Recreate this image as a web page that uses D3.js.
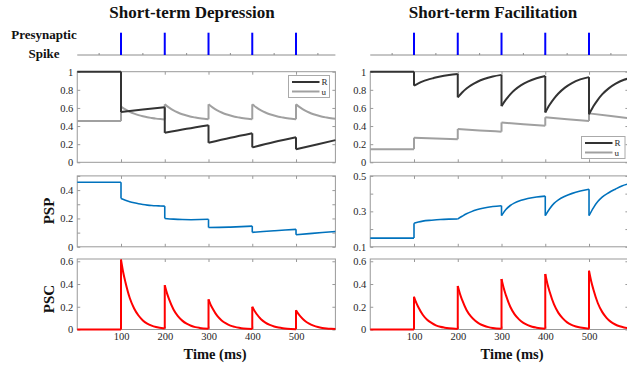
<!DOCTYPE html>
<html>
<head>
<meta charset="utf-8">
<script src="https://cdn.jsdelivr.net/npm/d3@7"></script>
<style>
  body { margin: 0; background: #fff; }
  svg { display: block; font-family: "Liberation Serif", "Times New Roman", serif; }
</style>
</head>
<body>
<div id="chart"></div>
<script>
// ---- data ----
const spikeTimes = [100, 200, 300, 400, 500];
const spikeAxisTicks = [50, 100, 150, 200, 250, 300, 350, 400, 450, 500, 550];
const timeTicks = [100, 200, 300, 400, 500];

const ruTicks = [0, 0.2, 0.4, 0.6, 0.8, 1];
const pspTicksDep = [0, 0.1, 0.2, 0.3, 0.4, 0.5];
const pspLabelsDep = [0, 0.2, 0.4];
const pspTicksFac = [0.1, 0.2, 0.3, 0.4, 0.5];
const pspLabelsFac = [0.1, 0.3, 0.5];
const pscTicks = [0, 0.2, 0.4, 0.6];

// depression: [time ms, value]
const depR = [[0,1],[100,1],[100,0.555],[150,0.582],[200,0.607],
  [200,0.325],[250,0.37],[300,0.41],
  [300,0.215],[350,0.27],[400,0.32],
  [400,0.165],[450,0.224],[500,0.276],
  [500,0.143],[550,0.2],[590,0.245]];
const depU = [[0,0.455],[100,0.455],
  [100,0.615],[110,0.583],[120,0.557],[130,0.537],[140,0.521],[150,0.508],[160,0.497],[170,0.489],[180,0.482],[190,0.477],[200,0.473],
  [200,0.64],[210,0.603],[220,0.573],[230,0.55],[240,0.531],[250,0.516],[260,0.503],[270,0.494],[280,0.486],[290,0.48],[300,0.475],
  [300,0.64],[310,0.603],[320,0.573],[330,0.55],[340,0.531],[350,0.516],[360,0.503],[370,0.494],[380,0.486],[390,0.48],[400,0.475],
  [400,0.64],[410,0.603],[420,0.573],[430,0.55],[440,0.531],[450,0.516],[460,0.503],[470,0.494],[480,0.486],[490,0.48],[500,0.475],
  [500,0.64],[510,0.603],[520,0.573],[530,0.55],[540,0.531],[550,0.516],[560,0.503],[570,0.494],[580,0.486],[590,0.48]];
const depPSP = [[0,0.455],[100,0.455],
  [100,0.34],[110,0.328],[120,0.318],[130,0.31],[140,0.303],[150,0.298],[160,0.294],[170,0.291],[180,0.289],[190,0.288],[200,0.287],
  [200,0.2],[220,0.195],[240,0.192],[260,0.191],[280,0.192],[300,0.194],
  [300,0.136],[325,0.137],[350,0.139],[375,0.142],[400,0.146],
  [400,0.102],[425,0.108],[450,0.113],[475,0.118],[500,0.123],
  [500,0.085],[530,0.093],[560,0.101],[590,0.108]];
const depPSC = [[0,0],[100,0],
  [100,0.615],[105,0.504],[110,0.418],[120,0.277],[130,0.185],[140,0.123],[150,0.08],[160,0.052],[170,0.034],[180,0.022],[200,0.009],
  [200,0.39],[205,0.32],[210,0.265],[220,0.176],[230,0.117],[240,0.078],[250,0.051],[260,0.033],[270,0.021],[280,0.014],[300,0.006],
  [300,0.265],[305,0.217],[310,0.18],[320,0.119],[330,0.08],[340,0.053],[350,0.034],[360,0.023],[370,0.015],[380,0.009],[400,0.004],
  [400,0.2],[405,0.164],[410,0.136],[420,0.09],[430,0.06],[440,0.04],[450,0.026],[460,0.017],[470,0.011],[480,0.007],[500,0.003],
  [500,0.17],[505,0.139],[510,0.116],[520,0.077],[530,0.051],[540,0.034],[550,0.022],[560,0.014],[570,0.009],[580,0.006],[590,0.004]];

// facilitation
const facR = [[0,1],[100,1],
  [100,0.846],[110,0.871],[120,0.893],[130,0.91],[145,0.93],[160,0.948],[180,0.964],[200,0.975],
  [200,0.717],[210,0.77],[220,0.814],[230,0.849],[245,0.889],[260,0.919],[280,0.947],[300,0.965],
  [300,0.62],[310,0.691],[320,0.75],[330,0.797],[345,0.851],[360,0.891],[380,0.928],[400,0.953],
  [400,0.55],[410,0.635],[420,0.703],[430,0.759],[445,0.824],[460,0.871],[480,0.915],[500,0.94],
  [500,0.53],[510,0.618],[520,0.69],[530,0.749],[545,0.816],[560,0.865],[580,0.911],[590,0.925]];
const facU = [[0,0.145],[100,0.145],
  [100,0.272],[150,0.262],[200,0.255],
  [200,0.368],[250,0.352],[300,0.338],
  [300,0.44],[350,0.42],[400,0.404],
  [400,0.497],[450,0.475],[500,0.456],
  [500,0.54],[550,0.51],[590,0.488]];
const facPSP = [[0,0.149],[100,0.149],
  [100,0.233],[110,0.24],[120,0.245],[140,0.25],[160,0.254],[180,0.256],[200,0.257],
  [200,0.257],[210,0.272],[220,0.286],[230,0.297],[245,0.31],[260,0.319],[280,0.327],[300,0.332],
  [300,0.276],[310,0.31],[320,0.333],[330,0.348],[345,0.362],[360,0.372],[380,0.381],[400,0.386],
  [400,0.276],[410,0.315],[420,0.345],[430,0.365],[445,0.385],[460,0.4],[480,0.415],[500,0.425],
  [500,0.276],[510,0.32],[520,0.355],[530,0.38],[545,0.405],[560,0.425],[575,0.443],[590,0.455]];
const facPSC = [[0,0],[100,0],
  [100,0.288],[105,0.236],[110,0.196],[120,0.13],[130,0.086],[140,0.058],[150,0.037],[160,0.024],[170,0.016],[180,0.01],[200,0.004],
  [200,0.383],[205,0.314],[210,0.26],[220,0.172],[230,0.115],[240,0.077],[250,0.05],[260,0.033],[270,0.021],[280,0.013],[300,0.006],
  [300,0.444],[305,0.364],[310,0.302],[320,0.2],[330,0.133],[340,0.089],[350,0.058],[360,0.038],[370,0.024],[380,0.016],[400,0.007],
  [400,0.488],[405,0.4],[410,0.332],[420,0.22],[430,0.146],[440,0.098],[450,0.063],[460,0.041],[470,0.027],[480,0.017],[500,0.007],
  [500,0.517],[505,0.424],[510,0.352],[520,0.233],[530,0.155],[540,0.103],[550,0.067],[560,0.044],[570,0.028],[580,0.018],[590,0.012]];

// ---- layout ----
const W = 627, H = 367;
const axisGray = '#999999', textGray = '#262626';
const colR = '#333333', colU = '#a0a0a0', colPSP = '#0072bd', colPSC = '#ff0000', colSpike = '#0000ff';

const svg = d3.select('#chart').append('svg')
  .attr('width', W).attr('height', H);

const columns = [
  { title: 'Short-term Depression', titleX: 192, xRange: [77.25, 335.4], timeX: 215,
    R: depR, u: depU, psp: depPSP, psc: depPSC,
    pspDomain: [0, 0.5], pspTicks: pspTicksDep, pspLabels: pspLabelsDep, legend: 'top' },
  { title: 'Short-term Facilitation', titleX: 493, xRange: [370.25, 628.4], timeX: 512,
    R: facR, u: facU, psp: facPSP, psc: facPSC,
    pspDomain: [0.1, 0.5], pspTicks: pspTicksFac, pspLabels: pspLabelsFac, legend: 'bottom' }
];

// split a series into continuous runs at the vertical jumps (repeated time)
function splitRuns(pts) {
  const runs = [[pts[0]]];
  for (let i = 1; i < pts.length; i++) {
    if (pts[i][0] === pts[i - 1][0]) runs.push([pts[i]]);
    else runs[runs.length - 1].push(pts[i]);
  }
  return runs;
}

function drawSeries(g, pts, x, y, color, width) {
  const smooth = d3.line().x(d => x(d[0])).y(d => y(d[1])).curve(d3.curveMonotoneX);
  const runs = splitRuns(pts);
  const jumps = [];
  for (let i = 1; i < runs.length; i++) jumps.push([runs[i - 1][runs[i - 1].length - 1], runs[i][0]]);
  g.selectAll(null).data(jumps).enter().append('line')
    .attr('x1', d => x(d[0][0])).attr('y1', d => y(d[0][1]))
    .attr('x2', d => x(d[1][0])).attr('y2', d => y(d[1][1]))
    .attr('stroke', color).attr('stroke-width', width);
  g.selectAll(null).data(runs).enter().append('path')
    .attr('d', smooth)
    .attr('fill', 'none').attr('stroke', color).attr('stroke-width', width)
    .attr('stroke-linejoin', 'round');
}

function styleAxis(sel) {
  sel.select('.domain').remove();
  sel.selectAll('.tick line').attr('stroke', axisGray);
  sel.selectAll('.tick text')
    .attr('fill', textGray)
    .style('font-family', '"Liberation Serif", "Times New Roman", serif')
    .style('font-size', '10.5px');
}

function drawBox(g, x, y, yTicks, yLabels, xLabels) {
  const [x0, x1] = x.range();
  const [yb, yt] = y.range();
  const fmt = d3.format('~g');
  g.append('rect')
    .attr('x', x0).attr('y', yt).attr('width', x1 - x0).attr('height', yb - yt)
    .attr('fill', 'none').attr('stroke', axisGray).attr('stroke-width', 1);
  g.append('g').attr('transform', `translate(${x0},0)`)
    .call(d3.axisLeft(y).tickValues(yTicks).tickSizeInner(-3).tickSizeOuter(0).tickPadding(4)
      .tickFormat(d => yLabels.includes(d) ? fmt(d) : ''))
    .call(styleAxis);
  g.append('g').attr('transform', `translate(${x1},0)`)
    .call(d3.axisRight(y).tickValues(yTicks).tickSizeInner(-3).tickSizeOuter(0).tickFormat(''))
    .call(styleAxis);
  g.append('g').attr('transform', `translate(0,${yb})`)
    .call(d3.axisBottom(x).tickValues(timeTicks).tickSizeInner(-3).tickSizeOuter(0).tickPadding(3)
      .tickFormat(xLabels ? d3.format('d') : ''))
    .call(styleAxis);
  g.append('g').attr('transform', `translate(0,${yt})`)
    .call(d3.axisTop(x).tickValues(timeTicks).tickSizeInner(-3).tickSizeOuter(0).tickFormat(''))
    .call(styleAxis);
}

function drawLegend(g, bx, by, bw, bh) {
  const lg = g.append('g');
  lg.append('rect').attr('x', bx).attr('y', by).attr('width', bw).attr('height', bh)
    .attr('fill', '#fff').attr('stroke', '#aaaaaa').attr('stroke-width', 1);
  [['R', colR], ['u', colU]].forEach(([name, c], i) => {
    const yy = by + 6.5 + i * 9.5;
    lg.append('line').attr('x1', bx + 3.5).attr('x2', bx + 31).attr('y1', yy).attr('y2', yy)
      .attr('stroke', c).attr('stroke-width', 2);
    lg.append('text').attr('x', bx + 33).attr('y', yy + 3)
      .attr('fill', textGray).style('font-size', '9px').text(name);
  });
}

columns.forEach((col, ci) => {
  const g = svg.append('g');
  const x = d3.scaleLinear().domain([0, 590]).range(col.xRange);

  g.append('text').attr('x', col.titleX).attr('y', 18).attr('text-anchor', 'middle')
    .style('font-weight', 'bold').style('font-size', '17px').attr('fill', '#111').text(col.title);

  // presynaptic spikes
  const ySpike = d3.scaleLinear().domain([0, 1]).range([55, 32.7]);
  g.append('line').attr('x1', col.xRange[0]).attr('x2', col.xRange[1])
    .attr('y1', ySpike(0)).attr('y2', ySpike(0)).attr('stroke', '#8c8c8c').attr('stroke-width', 1);
  g.selectAll(null).data(spikeAxisTicks).enter().append('line')
    .attr('x1', d => x(d)).attr('x2', d => x(d))
    .attr('y1', ySpike(0)).attr('y2', ySpike(0) - 2).attr('stroke', '#8c8c8c');
  g.selectAll(null).data(spikeTimes).enter().append('line')
    .attr('x1', d => x(d)).attr('x2', d => x(d))
    .attr('y1', ySpike(0)).attr('y2', ySpike(1))
    .attr('stroke', colSpike).attr('stroke-width', 2);

  // R and u
  const yRU = d3.scaleLinear().domain([0, 1]).range([162.3, 71.7]);
  drawBox(g, x, yRU, ruTicks, ruTicks, false);
  drawSeries(g, col.u, x, yRU, colU, 2);
  drawSeries(g, col.R, x, yRU, colR, 2);
  if (col.legend === 'top') drawLegend(g, 288.5, 75.5, 41, 22);
  else drawLegend(g, 581.5, 136.5, 43.5, 22);

  // PSP
  const yPSP = d3.scaleLinear().domain(col.pspDomain).range([246.8, 175.9]);
  drawBox(g, x, yPSP, col.pspTicks, col.pspLabels, false);
  drawSeries(g, col.psp, x, yPSP, colPSP, 1.6);

  // PSC
  const yPSC = d3.scaleLinear().domain([0, 0.62]).range([329.5, 259]);
  drawBox(g, x, yPSC, pscTicks, pscTicks, true);
  drawSeries(g, col.psc, x, yPSC, colPSC, 2);

  g.append('text').attr('x', col.timeX).attr('y', 359).attr('text-anchor', 'middle')
    .style('font-weight', 'bold').style('font-size', '14.5px').attr('fill', '#111').text('Time (ms)');
});

// row labels
svg.append('text').attr('x', 44).attr('y', 39).attr('text-anchor', 'middle')
  .style('font-weight', 'bold').style('font-size', '13px').attr('fill', '#111').text('Presynaptic');
svg.append('text').attr('x', 44).attr('y', 58).attr('text-anchor', 'middle')
  .style('font-weight', 'bold').style('font-size', '13px').attr('fill', '#111').text('Spike');
svg.append('text').attr('transform', 'translate(54,211) rotate(-90)').attr('text-anchor', 'middle')
  .style('font-weight', 'bold').style('font-size', '15px').attr('fill', '#111').text('PSP');
svg.append('text').attr('transform', 'translate(54,299) rotate(-90)').attr('text-anchor', 'middle')
  .style('font-weight', 'bold').style('font-size', '15px').attr('fill', '#111').text('PSC');
</script>
</body>
</html>
